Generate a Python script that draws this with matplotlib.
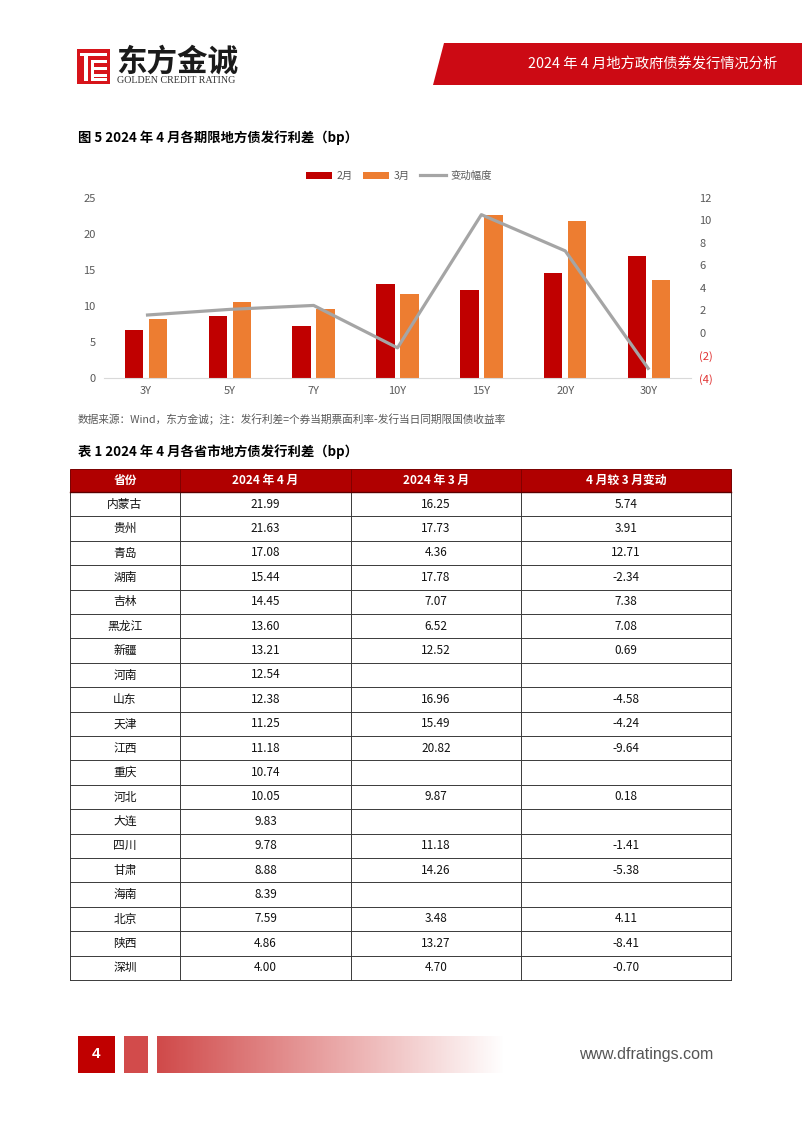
import numpy as np
import matplotlib
matplotlib.use('Agg')
import matplotlib.pyplot as plt
from matplotlib.patches import Rectangle, Polygon, Patch
from matplotlib.lines import Line2D
from matplotlib.colors import LinearSegmentedColormap
from matplotlib import font_manager as fm

W, H = 802, 1133

# ---------------- data ----------------
tenors = ['3Y', '5Y', '7Y', '10Y', '15Y', '20Y', '30Y']
feb = [6.60, 8.55, 7.20, 13.01, 12.17, 14.59, 16.91]
mar = [8.13, 10.55, 9.62, 11.62, 22.68, 21.84, 13.62]
change = [1.59, 2.10, 2.45, -1.32, 10.52, 7.30, -3.26]
legend_labels = ['2月', '3月', '变动幅度']
left_ticks = [0, 5, 10, 15, 20, 25]
right_ticks = [-4, -2, 0, 2, 4, 6, 8, 10, 12]

table_cols = ['省份', '2024 年 4 月', '2024 年 3 月', '4 月较 3 月变动']
provinces = ['内蒙古', '贵州', '青岛', '湖南', '吉林', '黑龙江', '新疆', '河南', '山东', '天津',
             '江西', '重庆', '河北', '大连', '四川', '甘肃', '海南', '北京', '陕西', '深圳']
apr_vals = [21.99, 21.63, 17.08, 15.44, 14.45, 13.60, 13.21, 12.54, 12.38, 11.25,
            11.18, 10.74, 10.05, 9.83, 9.78, 8.88, 8.39, 7.59, 4.86, 4.00]
mar_vals = [16.25, 17.73, 4.36, 17.78, 7.07, 6.52, 12.52, None, 16.96, 15.49,
            20.82, None, 9.87, None, 11.18, 14.26, None, 3.48, 13.27, 4.70]
diff_vals = [5.74, 3.91, 12.71, -2.34, 7.38, 7.08, 0.69, None, -4.58, -4.24,
             -9.64, None, 0.18, None, -1.41, -5.38, None, 4.11, -8.41, -0.70]

page_title = '2024 年 4 月地方政府债券发行情况分析'
fig_title = '图 5 2024 年 4 月各期限地方债发行利差（bp）'
source_note = '数据来源：Wind，东方金诚；注：发行利差=个券当期票面利率-发行当日同期限国债收益率'
table_title = '表 1 2024 年 4 月各省市地方债发行利差（bp）'

# ---------------- fonts ----------------
avail = {f.name for f in fm.fontManager.ttflist}
CJK = ['Noto Sans CJK SC', 'DejaVu Sans']
NARROW = ['Liberation Sans Narrow', 'Noto Sans CJK SC', 'DejaVu Sans'] if 'Liberation Sans Narrow' in avail else ['Noto Sans CJK SC', 'DejaVu Sans']
plt.rcParams['font.family'] = CJK

RED = '#C00000'
ORANGE = '#ED7D31'
GRAY = '#A5A5A5'
TXT = '#595959'

fig = plt.figure(figsize=(W / 100, H / 100), dpi=100)
fig.patch.set_facecolor('white')


def fx(x):
    return x / W


def fy(y):
    return 1 - y / H


def rect(x0, y0, x1, y1, **kw):
    fig.add_artist(Rectangle((fx(x0), fy(y1)), fx(x1) - fx(x0), fy(y0) - fy(y1),
                             transform=fig.transFigure, **kw))


def hline(x0, x1, y, **kw):
    fig.add_artist(Line2D([fx(x0), fx(x1)], [fy(y), fy(y)], transform=fig.transFigure, **kw))


def vline(x, y0, y1, **kw):
    fig.add_artist(Line2D([fx(x), fx(x)], [fy(y0), fy(y1)], transform=fig.transFigure, **kw))


# ---------------- header ----------------
rect(77, 49, 110, 84, facecolor='#D7141A', edgecolor='none')
rect(84, 53, 87.5, 81, facecolor='white', edgecolor='none')
rect(80, 53, 107, 55.5, facecolor='white', edgecolor='none')
for yy in (60, 67, 74):
    rect(91, yy, 107, yy + 2.5, facecolor='white', edgecolor='none')
rect(91, 78.5, 107, 81, facecolor='white', edgecolor='none')
rect(91, 60, 93.5, 81, facecolor='white', edgecolor='none')
fig.text(fx(116), fy(62), '东方金诚', fontsize=22, fontweight='bold', color='#1a1a1a',
         ha='left', va='center', family=CJK)
fig.text(fx(117), fy(80.5), 'GOLDEN CREDIT RATING', fontsize=7.2, color='#333333',
         ha='left', va='center', family=['Liberation Serif', 'DejaVu Serif'])

fig.add_artist(Polygon([[fx(444), fy(43)], [fx(802), fy(43)], [fx(802), fy(85)], [fx(433), fy(85)]],
                       closed=True, transform=fig.transFigure, facecolor='#CC0A14', edgecolor='none'))
fig.text(fx(653), fy(64), page_title, fontsize=10.3, color='white', ha='center', va='center', family=CJK)

# ---------------- chart ----------------
fig.text(fx(78), fy(138), fig_title, fontsize=9.6, fontweight='bold', color='black',
         ha='left', va='center', family=CJK)

ax = fig.add_axes([fx(104), fy(378), fx(691) - fx(104), fy(198) - fy(378)])
x = np.arange(len(tenors))
bw = 0.22
off = 0.143
ax.bar(x - off, feb, bw, color=RED, zorder=2)
ax.bar(x + off, mar, bw, color=ORANGE, zorder=2)
ax.set_xlim(-0.5, len(tenors) - 0.5)
ax.set_ylim(left_ticks[0], left_ticks[-1])
ax.set_yticks(left_ticks)
ax.set_yticklabels([str(v) for v in left_ticks])
ax.set_xticks(x)
ax.set_xticklabels(tenors)
for s in ('top', 'right', 'left'):
    ax.spines[s].set_visible(False)
ax.spines['bottom'].set_color('#D9D9D9')
ax.spines['bottom'].set_linewidth(0.8)
ax.tick_params(axis='both', length=0, labelsize=8, colors=TXT, pad=6)
for lab in ax.get_xticklabels() + ax.get_yticklabels():
    lab.set_family(NARROW)

ax2 = ax.twinx()
ax2.plot(x, change, color=GRAY, lw=2.3, solid_capstyle='butt', zorder=3)
ax2.set_ylim(right_ticks[0], right_ticks[-1])
ax2.set_yticks(right_ticks)
ax2.set_yticklabels([f'({abs(v)})' if v < 0 else str(v) for v in right_ticks])
for s in ('top', 'right', 'left', 'bottom'):
    ax2.spines[s].set_visible(False)
ax2.tick_params(axis='y', length=0, labelsize=8, colors=TXT, pad=6)
for v, lab in zip(right_ticks, ax2.get_yticklabels()):
    lab.set_family(NARROW)
    if v < 0:
        lab.set_color('#E03030')

handles = [Patch(facecolor=RED, edgecolor='none'), Patch(facecolor=ORANGE, edgecolor='none'),
           Line2D([0], [0], color=GRAY, lw=2.3)]
leg = fig.legend(handles, legend_labels, loc='center', bbox_to_anchor=(fx(399), fy(176)),
                 ncol=3, frameon=False, fontsize=7.5, handlelength=2.5, handleheight=0.7,
                 handletextpad=0.4, columnspacing=1.0, borderaxespad=0)
for t in leg.get_texts():
    t.set_color(TXT)

fig.text(fx(78), fy(419), source_note, fontsize=7.7, color=TXT, ha='left', va='center', family=CJK)

# ---------------- table ----------------
fig.text(fx(78), fy(452), table_title, fontsize=9.6, fontweight='bold', color='black',
         ha='left', va='center', family=CJK)

col_x = [70, 180, 351, 521, 731]
head_top, head_bot = 469, 492
row_h = (980 - head_bot) / len(provinces)

rect(col_x[0], head_top, col_x[-1], head_bot, facecolor='#B00000', edgecolor='#7A0000', lw=0.7)
for i, c in enumerate(table_cols):
    cx = (col_x[i] + col_x[i + 1]) / 2
    fig.text(fx(cx), fy((head_top + head_bot) / 2), c, fontsize=8.5, fontweight='bold', color='white',
             ha='center', va='center', family=CJK)
for xx in col_x[1:-1]:
    vline(xx, head_top, head_bot, color='#7A0000', lw=0.6)


def fmt(v):
    return '' if v is None else f'{v:.2f}'


LINE = '#3a3a3a'
for r, prov in enumerate(provinces):
    y0 = head_bot + r * row_h
    yc = y0 + row_h / 2
    vals = [prov, fmt(apr_vals[r]), fmt(mar_vals[r]), fmt(diff_vals[r])]
    for i, s in enumerate(vals):
        cx = (col_x[i] + col_x[i + 1]) / 2
        fam = CJK if i == 0 else NARROW
        fig.text(fx(cx), fy(yc), s, fontsize=8.5, color='#111111', ha='center', va='center', family=fam)
    hline(col_x[0], col_x[-1], y0 + row_h, color=LINE, lw=0.7)
for xx in col_x:
    vline(xx, head_bot, head_bot + len(provinces) * row_h, color=LINE, lw=0.7)
hline(col_x[0], col_x[-1], head_bot, color='#5a0000', lw=1.0)

# ---------------- footer ----------------
rect(78, 1036, 115, 1073, facecolor='#C00000', edgecolor='none')
fig.text(fx(96.5), fy(1054), '4', fontsize=11, fontweight='bold', color='white', ha='center', va='center',
         family=['Liberation Sans', 'DejaVu Sans'])
rect(124, 1036, 148, 1073, facecolor='#D24B4B', edgecolor='none')
gax = fig.add_axes([fx(157), fy(1073), fx(505) - fx(157), fy(1036) - fy(1073)])
cmap = LinearSegmentedColormap.from_list('g', ['#D04A4A', '#E9A5A5', '#FFFFFF'])
gax.imshow(np.linspace(0, 1, 300)[None, :], aspect='auto', cmap=cmap, extent=[0, 1, 0, 1])
gax.axis('off')
fig.text(fx(646), fy(1054), 'www.dfratings.com', fontsize=11.5, color='#555555', ha='center', va='center',
         family=['Liberation Sans', 'DejaVu Sans'])

fig.savefig('out.png', dpi=100, facecolor='white')
